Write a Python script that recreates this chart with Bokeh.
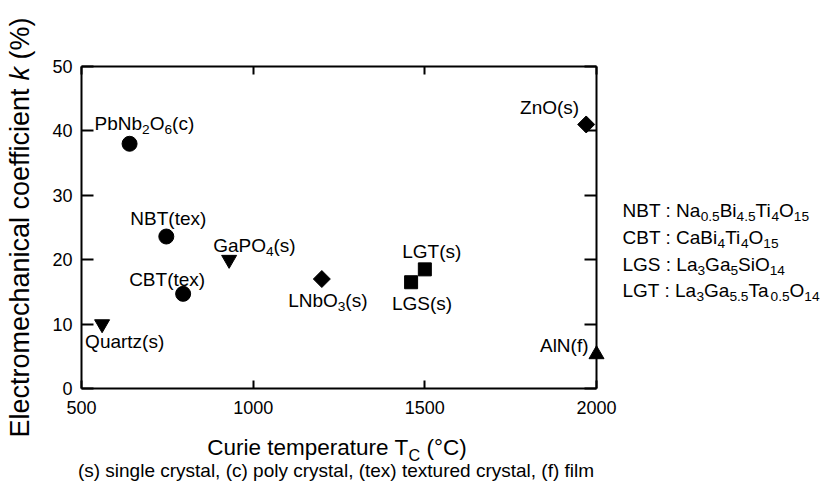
import math
from bokeh.plotting import figure
from bokeh.models import ColumnDataSource, Range1d, LinearAxis, FixedTicker
from bokeh.core.properties import value
from bokeh.embed import file_html
from bokeh.resources import INLINE

# ---------------- data ----------------
MATERIALS = ["PbNb_{2}O_{6}(c)", "NBT(tex)", "CBT(tex)", "Quartz(s)", "GaPO_{4}(s)",
             "LNbO_{3}(s)", "LGS(s)", "LGT(s)", "ZnO(s)", "AlN(f)"]
CURIE_T = [640, 747, 796, 560, 930, 1200, 1460, 1500, 1970, 2000]
K_COEF = [38.0, 23.6, 14.7, 10.0, 20.0, 17.0, 16.5, 18.5, 41.0, 5.3]
SHAPES = ["circle", "circle", "circle", "down", "down", "diamond", "square", "square", "diamond", "up"]
X_TICKS = [500, 1000, 1500, 2000]
Y_TICKS = [0, 10, 20, 30, 40, 50]
LEGEND_LINES = ["NBT : Na_{0.5}Bi_{4.5}Ti_{4}O_{15}",
                "CBT : CaBi_{4}Ti_{4}O_{15}",
                "LGS : La_{3}Ga_{5}SiO_{14}",
                "LGT : La_{3}Ga_{5.5}Ta_{0.5}O_{14}"]
X_TITLE = "Curie temperature T_{C} (°C)"
Y_TITLE = [("Electromechanical coefficient ", "normal"), ("k", "italic"), (" (%)", "normal")]
FOOTNOTE = "(s) single crystal, (c) poly crystal, (tex) textured crystal, (f) film"

# ---------------- styles / placement ----------------
FONT = "Liberation Sans"
SUB = 0.72      # subscript size ratio
SHIFT = 0.22    # subscript drop (fraction of main size)
BASE_FIX = 0.35  # lift so that the anchor lands on the baseline
MARKER_STYLE = {"circle": ("circle", 15, 0.0), "down": ("inverted_triangle", 15, 0.0),
                "up": ("triangle", 15, 0.0), "square": ("square", 13, 0.0),
                "diamond": ("square", 12, math.pi / 4)}
# (align, dx px, dy px of baseline, up positive)
LABEL_PLACE = [("left", -35, 14), ("center", 2, 11), ("center", -16, 8), ("left", -17, -24),
               ("left", -16, 8), ("center", 6, -28), ("center", 11, -28), ("center", 7, 11),
               ("right", -7, 10), ("right", -8, 2)]

ARIAL = {' ': 278, '!': 278, '(': 333, ')': 333, ',': 278, '.': 278, ':': 278, '%': 889, '°': 400,
         'A': 667, 'B': 667, 'C': 722, 'D': 722, 'E': 667, 'F': 611, 'G': 778, 'H': 722, 'I': 278,
         'J': 500, 'K': 667, 'L': 556, 'M': 833, 'N': 722, 'O': 778, 'P': 667, 'Q': 778, 'R': 722,
         'S': 667, 'T': 611, 'U': 722, 'V': 667, 'W': 944, 'X': 667, 'Y': 667, 'Z': 611,
         'a': 556, 'b': 556, 'c': 500, 'd': 556, 'e': 556, 'f': 278, 'g': 556, 'h': 556, 'i': 222,
         'j': 222, 'k': 500, 'l': 222, 'm': 833, 'n': 556, 'o': 556, 'p': 556, 'q': 556, 'r': 333,
         's': 500, 't': 278, 'u': 556, 'v': 500, 'w': 722, 'x': 500, 'y': 500, 'z': 500}
for d in "0123456789":
    ARIAL[d] = 556


def tw(t, size):
    return sum(ARIAL.get(c, 556) for c in t) / 1000.0 * size


def parse(s):
    out, buf, i = [], "", 0
    while i < len(s):
        if s.startswith("_{", i):
            if buf:
                out.append((buf, False))
                buf = ""
            j = s.index("}", i)
            out.append((s[i + 2:j], True))
            i = j + 1
        else:
            buf += s[i]
            i += 1
    if buf:
        out.append((buf, False))
    return out


# all text pieces are collected here and drawn by one text glyph
T = dict(x=[], y=[], text=[], xo=[], yo=[], size=[], style=[], angle=[])


def piece(x, y, txt, size, xo, yo_up, style="normal", angle=0.0):
    T["x"].append(x)
    T["y"].append(y)
    T["text"].append(txt)
    T["xo"].append(xo)
    T["yo"].append(-yo_up)
    T["size"].append(f"{size:.1f}px")
    T["style"].append(style)
    T["angle"].append(angle)


def rich(x, y, markup, size, align="left", dx=0.0, dy=0.0):
    segs = parse(markup)
    sizes = [size * SUB if sub else size for _, sub in segs]
    ws = [tw(t, s) for (t, _), s in zip(segs, sizes)]
    total = sum(ws)
    cur = dx - {"left": 0, "center": total / 2, "right": total}[align]
    for (t, sub), s, w in zip(segs, sizes, ws):
        lead = len(t) - len(t.lstrip(" "))
        txt = t.strip(" ")
        if txt:
            yo = dy + BASE_FIX * s - (SHIFT * size if sub else 0)
            piece(x, y, txt, s, cur + tw(" " * lead, s), yo)
        cur += w


# ---------------- figure ----------------
FW, FH = 515, 322
p = figure(width=826, height=495, output_backend="svg", toolbar_location=None,
           x_range=Range1d(X_TICKS[0], X_TICKS[-1]), y_range=Range1d(Y_TICKS[0], Y_TICKS[-1]),
           min_border_left=81, min_border_right=230, min_border_top=66, min_border_bottom=107)
p.outline_line_color = None
p.xgrid.visible = False
p.ygrid.visible = False
p.background_fill_color = "white"
p.border_fill_color = "white"


def style_axis(ax, ticks, tick_len, labels=True):
    ax.ticker = FixedTicker(ticks=ticks)
    ax.major_tick_in = tick_len
    ax.major_tick_out = 0
    ax.minor_tick_in = 0
    ax.minor_tick_out = 0
    ax.axis_line_width = 2
    ax.axis_line_color = "black"
    ax.major_tick_line_width = 2
    ax.major_tick_line_color = "black"
    if labels:
        ax.major_label_text_font = FONT
        ax.major_label_text_font_size = "18px"
        ax.major_label_text_color = "black"
    else:
        ax.major_label_text_color = None
        ax.major_label_standoff = 0


style_axis(p.xaxis[0], X_TICKS, 8)
p.xaxis[0].major_label_standoff = 12
style_axis(p.yaxis[0], Y_TICKS, 12)
p.yaxis[0].major_label_standoff = 9
top = LinearAxis()
style_axis(top, X_TICKS, 8, labels=False)
p.add_layout(top, "above")
right = LinearAxis()
style_axis(right, Y_TICKS, 12, labels=False)
p.add_layout(right, "right")

src = ColumnDataSource(dict(
    x=CURIE_T, y=K_COEF,
    marker=[MARKER_STYLE[s][0] for s in SHAPES],
    size=[MARKER_STYLE[s][1] for s in SHAPES],
    angle=[MARKER_STYLE[s][2] for s in SHAPES]))
p.scatter(x="x", y="y", marker="marker", size="size", angle="angle", source=src,
          fill_color="black", line_color="black", level="overlay")

for name, xv, yv, (al, dx, dy) in zip(MATERIALS, CURIE_T, K_COEF, LABEL_PLACE):
    rich(xv, yv, name, 19, align=al, dx=dx, dy=dy)

# texts anchored at the lower-left corner of the frame, offsets in pixels
X0, Y0 = X_TICKS[0], Y_TICKS[0]

for i, line in enumerate(LEGEND_LINES):
    rich(X0, Y0, line, 19, dx=FW + 26, dy=171 - 26.7 * i)

rich(X0, Y0, X_TITLE, 22.5, align="center", dx=FW / 2 - 2, dy=-67)
rich(X0, Y0, FOOTNOTE, 19, align="center", dx=FW / 2 - 3, dy=-89)

# y title (rotated, italic k)
YT_SIZE = 27
widths = [tw(t, YT_SIZE) for t, _ in Y_TITLE]
cur = FH / 2 - sum(widths) / 2
for (t, style), w in zip(Y_TITLE, widths):
    lead = len(t) - len(t.lstrip(" "))
    piece(X0, Y0, t.strip(" "), YT_SIZE, -52 - BASE_FIX * YT_SIZE,
          cur + tw(" " * lead, YT_SIZE), style=style, angle=math.pi / 2)
    cur += w

tsrc = ColumnDataSource(T)
p.text(x="x", y="y", text="text", x_offset="xo", y_offset="yo", angle="angle",
       text_font=value(FONT), text_font_size="size", text_font_style="style",
       text_align="left", text_baseline="alphabetic", text_color="black",
       source=tsrc, level="overlay")

open("out.html", "w").write(file_html(p, INLINE))
